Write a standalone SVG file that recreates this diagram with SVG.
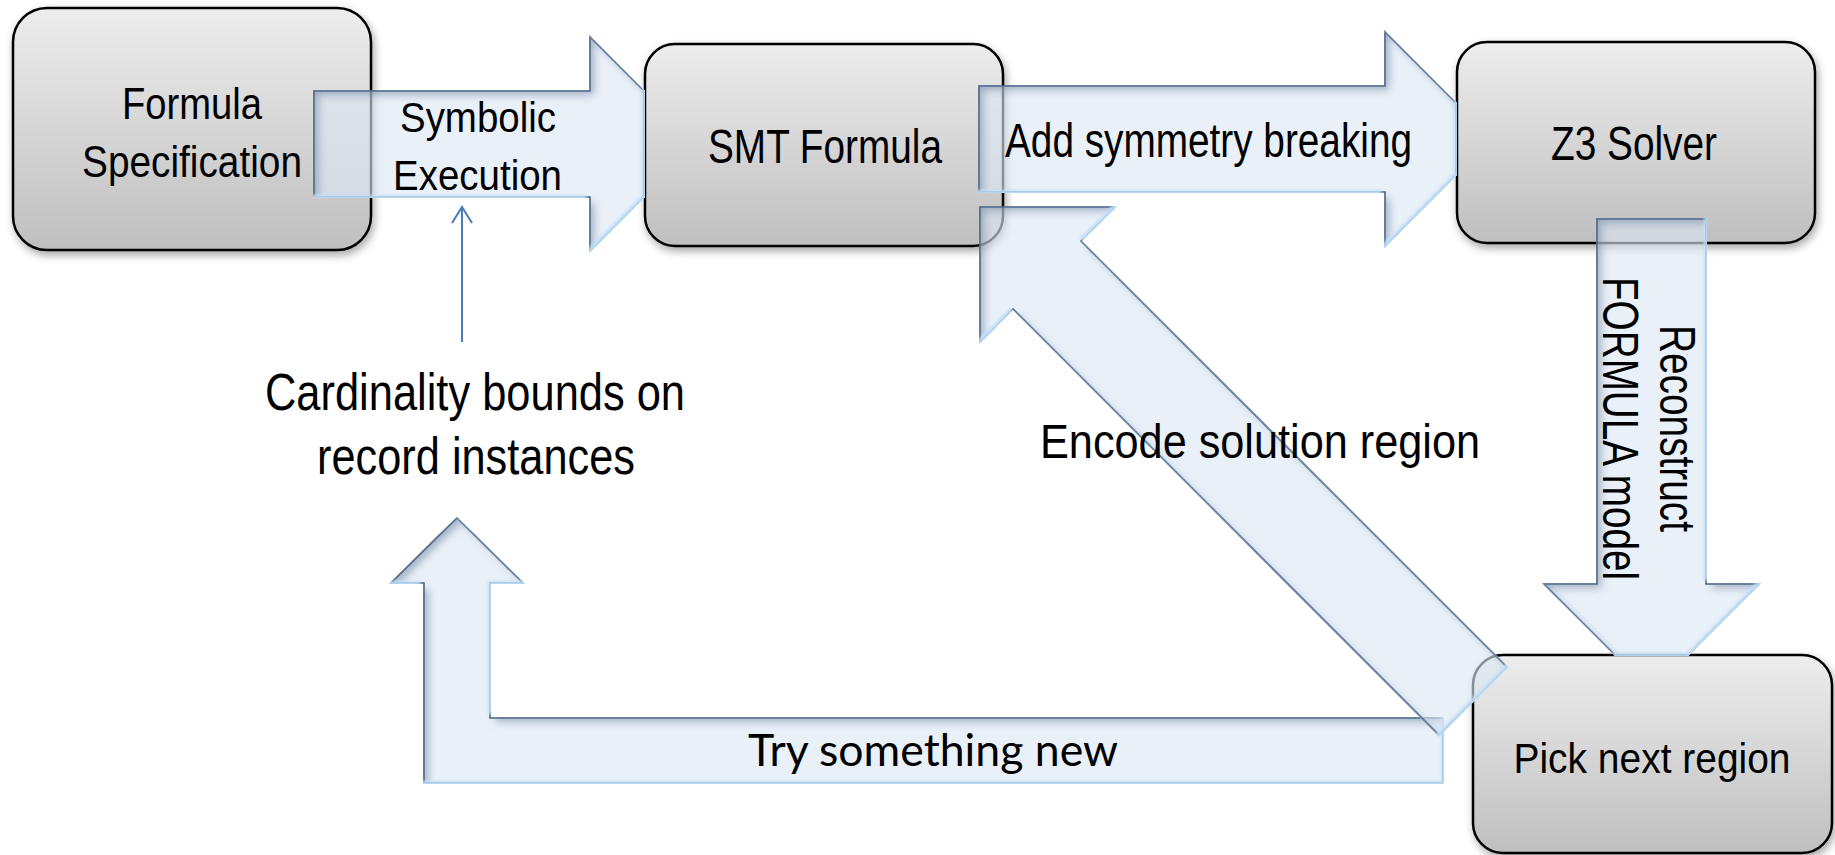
<svg xmlns="http://www.w3.org/2000/svg" width="1835" height="855" viewBox="0 0 1835 855">
  <defs>
    <linearGradient id="boxGrad" x1="0" y1="0" x2="0" y2="1">
      <stop offset="0" stop-color="#ededed"/>
      <stop offset="1" stop-color="#bfbfbf"/>
    </linearGradient>
    <filter id="shadow" x="-10%" y="-10%" width="125%" height="130%">
      <feDropShadow dx="2" dy="4" stdDeviation="4" flood-color="#000" flood-opacity="0.35"/>
    </filter>
    <filter id="bevel" x="-10%" y="-10%" width="120%" height="120%" color-interpolation-filters="sRGB">
      <feComponentTransfer in="SourceAlpha" result="A">
        <feFuncA type="linear" slope="20" intercept="0"/>
      </feComponentTransfer>
      <feGaussianBlur in="A" stdDeviation="4" result="b"/>
      <feOffset in="b" dx="5" dy="5" result="bo"/>
      <feComposite in="A" in2="bo" operator="out" result="rim"/>
      <feFlood flood-color="#5b7394" flood-opacity="0.5" result="c"/>
      <feComposite in="c" in2="rim" operator="in" result="shade"/>
      <feGaussianBlur in="A" stdDeviation="1.5" result="b2"/>
      <feOffset in="b2" dx="-3" dy="-3" result="bo2"/>
      <feComposite in="A" in2="bo2" operator="out" result="rim2"/>
      <feFlood flood-color="#c2e2fa" flood-opacity="0.9" result="c2"/>
      <feComposite in="c2" in2="rim2" operator="in" result="hl"/>
      <feMerge><feMergeNode in="SourceGraphic"/><feMergeNode in="shade"/><feMergeNode in="hl"/></feMerge>
    </filter>
  </defs>
  <style>
    .box { fill: url(#boxGrad); stroke: #000; stroke-width: 2.5; filter: url(#shadow); }
    .lbl { font-family: "Liberation Sans", Arial, sans-serif; fill: #000; text-anchor: middle; }
    .cal { font-family: Lato, "Open Sans", sans-serif; fill: #000; text-anchor: middle; }
    .arr { fill: #dde7f3; fill-opacity: 0.62; stroke: #4a6586; stroke-width: 1.6; stroke-linejoin: miter; filter: url(#bevel); }
    .thin { fill: none; stroke: #4a7ebb; stroke-width: 2; }
  </style>
  <rect width="1835" height="855" fill="#fff"/>

  <g id="node-formula-spec">
    <rect class="box" x="13" y="8" width="358" height="242" rx="34"/>
    <text class="lbl" x="192" y="119" font-size="45" textLength="140" lengthAdjust="spacingAndGlyphs">Formula</text>
    <text class="lbl" x="192" y="177" font-size="45" textLength="220" lengthAdjust="spacingAndGlyphs">Specification</text>
  </g>

  <g id="node-smt">
    <rect class="box" x="645" y="44" width="358" height="202" rx="30"/>
    <text class="lbl" x="825" y="163" font-size="48" textLength="234" lengthAdjust="spacingAndGlyphs">SMT Formula</text>
  </g>

  <g id="node-z3">
    <rect class="box" x="1457" y="42" width="358" height="201" rx="30"/>
    <text class="lbl" x="1634" y="160" font-size="48" textLength="166" lengthAdjust="spacingAndGlyphs">Z3 Solver</text>
  </g>

  <g id="node-pick">
    <rect class="box" x="1473" y="655" width="359" height="198" rx="30"/>
    <text class="lbl" x="1652" y="773" font-size="43" textLength="277" lengthAdjust="spacingAndGlyphs">Pick next region</text>
  </g>

  <g id="node-cardinality">
    <text class="lbl" x="475" y="410" font-size="52" textLength="420" lengthAdjust="spacingAndGlyphs">Cardinality bounds on</text>
    <text class="lbl" x="476" y="474" font-size="52" textLength="318" lengthAdjust="spacingAndGlyphs">record instances</text>
  </g>

  <g id="connectors">
    <!-- Symbolic Execution -->
    <polygon class="arr" points="314,91 590,91 590,37 644,91 644,197 590,251 590,197 314,197"/>
    <!-- Add symmetry breaking -->
    <polygon class="arr" points="979,86 1385,86 1385,32 1456,103 1456,175 1385,246 1385,192 979,192"/>
    <!-- Reconstruct FORMULA model -->
    <polygon class="arr" points="1597,219 1706,219 1706,584 1759,584 1688,655 1615,655 1544,584 1597,584"/>
    <!-- Try something new -->
    <polygon class="arr" points="1443,718 490,718 490,583 523,583 457,518 391,583 424,583 424,783 1443,783"/>
    <!-- Encode solution region -->
    <polygon class="arr" points="980,207 1115,207 1081,241 1507,667 1439,735 1013,309 980,342"/>
    <!-- cardinality bounds to symbolic execution -->
    <line class="thin" x1="462" y1="342" x2="462" y2="208"/>
    <polyline class="thin" points="452,223 462,207 472,223"/>

    <text class="lbl" x="478" y="132" font-size="42" textLength="156" lengthAdjust="spacingAndGlyphs">Symbolic</text>
    <text class="lbl" x="477.5" y="190" font-size="42" textLength="169" lengthAdjust="spacingAndGlyphs">Execution</text>
    <text class="lbl" x="1208.5" y="157" font-size="48" textLength="407" lengthAdjust="spacingAndGlyphs">Add symmetry breaking</text>
    <text class="lbl" transform="translate(1660,428.5) rotate(90)" font-size="50" textLength="207" lengthAdjust="spacingAndGlyphs">Reconstruct</text>
    <text class="lbl" transform="translate(1603,428.5) rotate(90)" font-size="50" textLength="303" lengthAdjust="spacingAndGlyphs">FORMULA model</text>
    <text class="lbl" x="1260" y="458" font-size="48" textLength="440" lengthAdjust="spacingAndGlyphs">Encode solution region</text>
    <text class="cal" x="933" y="766" font-size="44" textLength="370" lengthAdjust="spacingAndGlyphs">Try something new</text>
  </g>
</svg>
